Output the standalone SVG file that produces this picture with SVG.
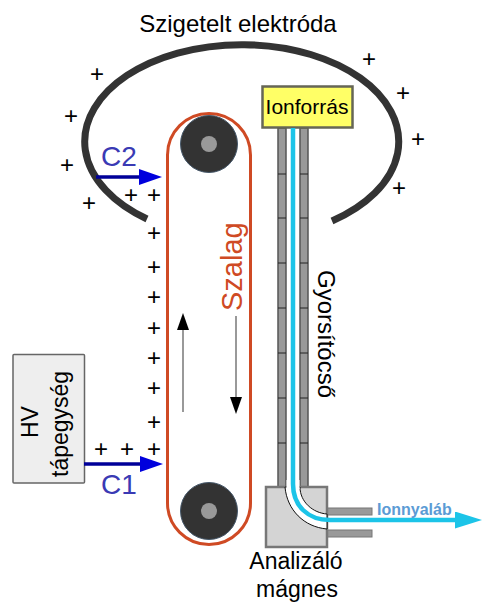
<svg xmlns="http://www.w3.org/2000/svg" width="490" height="611" viewBox="0 0 490 611">
<style>
text{font-family:"Liberation Sans",Arial,sans-serif;fill:#000}
.p{font-size:24px;text-anchor:middle}
.tick{stroke:#222;stroke-width:1}
.tube{fill:#999;stroke:#555;stroke-width:1.5}
</style>
<defs>
<marker id="blue" markerUnits="userSpaceOnUse" markerWidth="24" markerHeight="16" refX="10" refY="8" orient="auto"><path d="M0 0L23 8L0 16Z" fill="#0000dd"/></marker>
<marker id="cy" markerUnits="userSpaceOnUse" markerWidth="28" markerHeight="18" refX="12" refY="8.500" orient="auto"><path d="M0 0L27 8.500L0 17Z" fill="#1cc4e8"/></marker>
</defs>
<rect width="490" height="611" fill="#fff"/>
<g id="electrode"><path d="M147 219A157 97 0 1 1 332 221" fill="none" stroke="#333" stroke-width="7"/>
<text x="238" y="32" font-size="24" text-anchor="middle">Szigetelt elektróda</text></g>
<g id="charges">
<text class="p" x="97" y="82">+</text><text class="p" x="71" y="124">+</text><text class="p" x="67" y="173">+</text><text class="p" x="89" y="211">+</text><text class="p" x="131" y="203">+</text><text class="p" x="154" y="203">+</text><text class="p" x="154" y="241">+</text><text class="p" x="154" y="275">+</text><text class="p" x="154" y="305">+</text><text class="p" x="154" y="336">+</text><text class="p" x="154" y="366">+</text><text class="p" x="154" y="396">+</text><text class="p" x="154" y="430">+</text><text class="p" x="154" y="457">+</text><text class="p" x="127" y="457">+</text><text class="p" x="101" y="457">+</text><text class="p" x="369" y="67">+</text><text class="p" x="403" y="101">+</text><text class="p" x="418" y="147">+</text><text class="p" x="399" y="196">+</text>
</g>
<g id="belt"><rect x="167.500" y="113.500" width="83" height="431" rx="41.500" fill="none" stroke="#cf4a24" stroke-width="3"/>
<text transform="translate(242 311) rotate(-90)" font-size="29" style="fill:#cf4a24">Szalag</text></g>
<g id="pulley-top"><circle cx="209" cy="144" r="28.500" fill="#333" stroke="#46586a"/><circle cx="209" cy="144" r="8" fill="#999"/></g>
<g id="pulley-bottom"><circle cx="209" cy="511" r="28.500" fill="#333" stroke="#46586a"/><circle cx="209" cy="511" r="8" fill="#999"/></g>
<g id="hv"><rect x="13" y="354.500" width="71.500" height="128.500" rx="1" fill="#eee" stroke="#666" stroke-width="1.500"/>
<text transform="translate(38 438) rotate(-90)" font-size="23">HV</text>
<text transform="translate(68 477) rotate(-90)" font-size="23">tápegység</text></g>
<g id="accelerator">
<rect x="278" y="128" width="8" height="360" class="tube"/><rect x="300" y="128" width="8" height="360" class="tube"/>
<path class="tick" d="M278 174H286M300 174H308M278 218H286M300 218H308M278 263H286M300 263H308M278 308H286M300 308H308M278 353H286M300 353H308M278 398H286M300 398H308M278 443H286M300 443H308"/>
<text transform="translate(318 270) rotate(90)" font-size="24">Gyorsítócső</text></g>
<g id="magnet">
<rect x="327" y="508" width="45" height="7" fill="#999" stroke="#777"/><rect x="327" y="530" width="45" height="7" fill="#999" stroke="#777"/>
<rect x="266" y="487" width="61" height="60" fill="#d4d4d4" stroke="#777" stroke-width="2.500"/>
<path d="M285 487C287 510 304 527 327 529V514C313 513 300 502 300 487Z" fill="#fff" stroke="#111" stroke-width="1"/>
<rect x="286.500" y="480" width="13" height="9" fill="#fff"/>
<text x="296" y="569" font-size="23" text-anchor="middle">Analizáló</text><text x="297" y="597" font-size="23" text-anchor="middle">mágnes</text></g>
<g id="source"><rect x="262.500" y="86.500" width="90" height="41" fill="#ffff66" stroke="#666655" stroke-width="2.500"/>
<text x="307" y="114" font-size="21" text-anchor="middle">Ionforrás</text></g>
<g id="connectors" fill="none">
<path d="M293 128V484C293 506 308 520 330 520H467" stroke="#1cc4e8" stroke-width="4.500" marker-end="url(#cy)"/>
<path d="M84 464H150" stroke="#000099" stroke-width="3.500" marker-end="url(#blue)"/>
<path d="M96 177H149" stroke="#000099" stroke-width="3.500" marker-end="url(#blue)"/>
<path d="M183 412V330" stroke="#777" stroke-width="1.500"/><path d="M177 330H189L183 313Z" fill="#000"/>
<path d="M236 316V398" stroke="#777" stroke-width="1.500"/><path d="M230 397H242L236 414Z" fill="#000"/>
</g>
<g id="labels">
<text x="101" y="166" font-size="28" style="fill:#3a3ab4">C2</text>
<text x="101" y="494" font-size="28" style="fill:#3a3ab4">C1</text>
<text x="377" y="515" font-size="16" font-weight="bold" style="fill:#5b9bd5">Ionnyaláb</text>
</g>
</svg>
